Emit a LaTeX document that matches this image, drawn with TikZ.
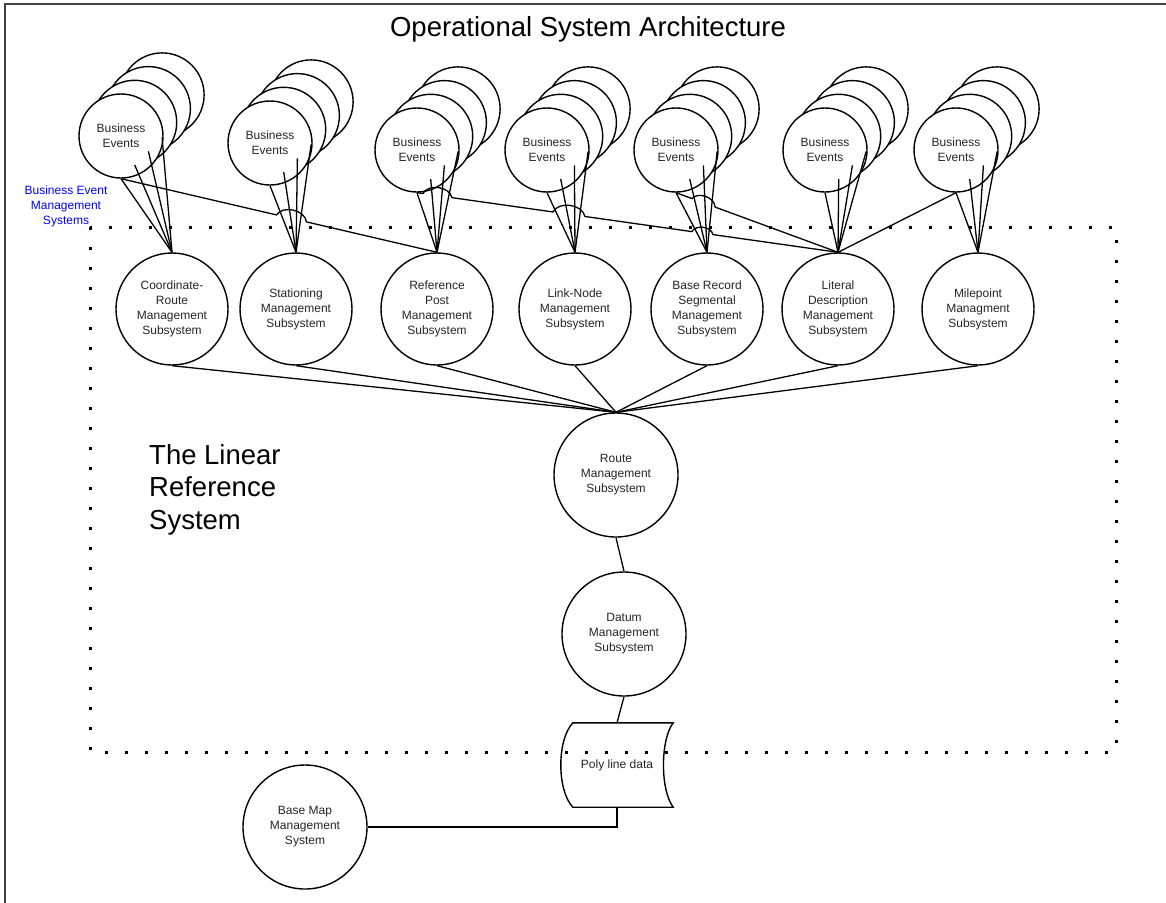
\documentclass[tikz,border=0pt]{standalone}
\usepackage{fontspec}
\setmainfont{Liberation Sans}
\usetikzlibrary{calc}
\newcommand\evgroup[3]{%
  \node[evt] (#1d) at (#2+41.1,#3-41.1) {};
  \node[evt] (#1c) at (#2+27.4,#3-27.4) {};
  \node[evt] (#1b) at (#2+13.7,#3-13.7) {};
  \node[evt] (#1a) at (#2,#3) {Business\\Events};
}
\newcommand\evlinks[2]{%
  \foreach \k in {a,b,c,d} {\draw[conn] (#1\k.south) -- (#2.north);}
}
\begin{document}
\begin{tikzpicture}[x=1pt,y=-1pt,
  txt/.style={font=\fontsize{12}{15}\selectfont,text=black!85},
  evt/.style={circle,draw,fill=white,line width=1.4pt,minimum size=84pt,inner sep=0pt,align=center,txt},
  sub/.style={circle,draw,fill=white,line width=1.4pt,minimum size=112pt,inner sep=0pt,align=center,txt},
  bigc/.style={sub,minimum size=124pt},
  conn/.style={line width=1.3pt},
  hop/.style={bend left=70}]
\useasboundingbox (0,0) rectangle (1166,902);
% outer frame
\draw[line width=1.4pt,black!75] (5,4) rectangle (1175,910);
% title
\node[font=\fontsize{27.5}{33}\selectfont] (title) at (588,29) {Operational System Architecture};
% side labels
\node[font=\fontsize{12}{15}\selectfont,text=blue,align=center] (bem) at (66,206) {Business Event\\Management\\Systems};
\node[font=\fontsize{27.5}{32.5}\selectfont,align=left,anchor=north west,inner sep=0pt] (lrs) at (149,444) {The Linear\\Reference\\System};
% business event groups
\evgroup{g1}{121}{136}
\evgroup{g2}{270}{143}
\evgroup{g3}{417}{150}
\evgroup{g4}{547}{150}
\evgroup{g5}{676}{150}
\evgroup{g6}{825}{150}
\evgroup{g7}{956}{150}
% subsystems
\node[sub] (cr) at (172,309) {Coordinate-\\Route\\Management\\Subsystem};
\node[sub] (st) at (296,309) {Stationing\\Management\\Subsystem};
\node[sub] (rp) at (437,309) {Reference\\Post\\Management\\Subsystem};
\node[sub] (ln) at (575,309) {Link-Node\\Management\\Subsystem};
\node[sub] (br) at (707,309) {Base Record\\Segmental\\Management\\Subsystem};
\node[sub] (lit) at (838,309) {Literal\\Description\\Management\\Subsystem};
\node[sub] (mp) at (978,309) {Milepoint\\Managment\\Subsystem};
\node[bigc] (route) at (616,475) {Route\\Management\\Subsystem};
\node[bigc] (datum) at (624,634) {Datum\\Management\\Subsystem};
\node[bigc] (bmap) at (305,827) {Base Map\\Management\\System};
% poly line data
\node[txt,minimum width=112pt,minimum height=84pt,inner sep=0pt] (poly) at (617,765) {Poly line data};
\draw[line width=1.4pt]
  ($(poly.north west)+(12,0)$) -- (poly.north east)
  .. controls ($(poly.north east)+(-13,17)$) and ($(poly.south east)+(-13,-17)$) .. (poly.south east)
  -- ($(poly.south west)+(12,0)$)
  .. controls ($(poly.south west)+(-4,-17)$) and ($(poly.north west)+(-4,17)$) .. ($(poly.north west)+(12,0)$) -- cycle;
% event links
\evlinks{g1}{cr}
\evlinks{g2}{st}
\evlinks{g3}{rp}
\evlinks{g4}{ln}
\evlinks{g5}{br}
\evlinks{g6}{lit}
\evlinks{g7}{mp}
% cross links with line jumps
\draw[conn] (g1a.south) -- ($(g1a.south)!0.492!(rp.north)$) to[hop] ($(g1a.south)!0.587!(rp.north)$) -- (rp.north);
\draw[conn] (g3a.south) -- ($(g3a.south)!0.014!(lit.north)$) to[hop] ($(g3a.south)!0.083!(lit.north)$)
  -- ($(g3a.south)!0.323!(lit.north)$) to[hop] ($(g3a.south)!0.399!(lit.north)$)
  -- ($(g3a.south)!0.653!(lit.north)$) to[hop] ($(g3a.south)!0.703!(lit.north)$) -- (lit.north);
\draw[conn] (g5a.south) -- ($(g5a.south)!0.099!(lit.north)$) to[hop] ($(g5a.south)!0.241!(lit.north)$) -- (lit.north);
\draw[conn] (g7a.south) -- (lit.north);
% subsystem links
\foreach \s in {cr,st,rp,ln,br,lit,mp} {\draw[conn] (\s.south) -- (route.north);}
\draw[conn] (route.south) -- (datum.north);
\draw[conn] (datum.south) -- (poly.north);
\draw[conn] (poly.south) |- (bmap.east);
% dotted boundary
\draw[line width=3pt,dash pattern=on 3pt off 17pt] (90,227) rectangle (1116,752);
\end{tikzpicture}
\end{document}
